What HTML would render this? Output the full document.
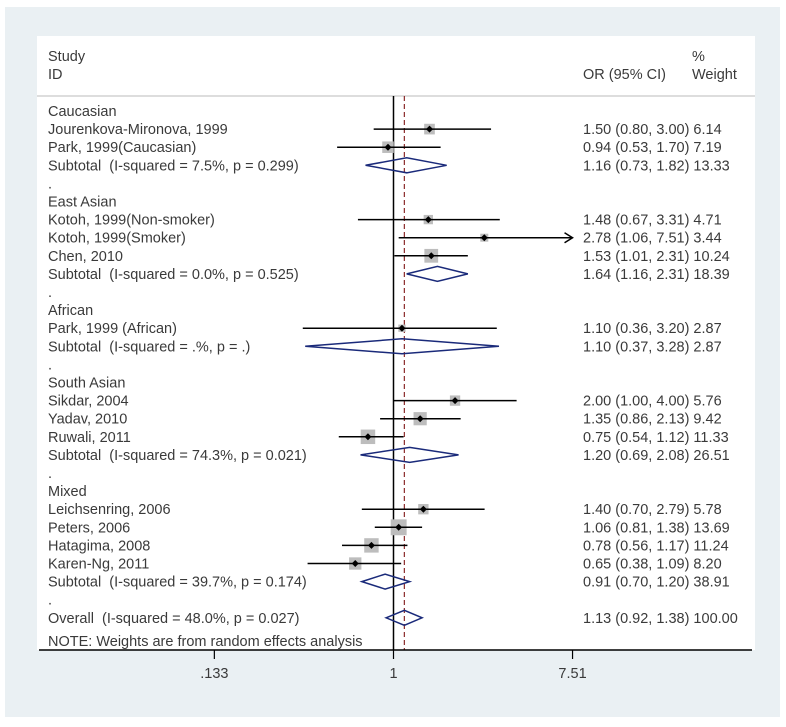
<!DOCTYPE html>
<html><head><meta charset="utf-8">
<style>
html,body{margin:0;padding:0;background:#fff;}
svg{display:block;font-family:"Liberation Sans",Arial,sans-serif;}
text{font-size:14.5px;fill:#3a3a3a;white-space:pre;}
</style></head>
<body>
<svg id="chart" width="786" height="727" viewBox="0 0 786 727">
<rect x="5" y="7" width="775" height="710" fill="#eaf0f3"/>
<rect x="37" y="36" width="718" height="614" fill="#ffffff"/>
<g id="header">
<text x="48" y="61">Study</text>
<text x="48" y="79">ID</text>
<text x="583" y="79">OR (95% CI)</text>
<text x="692" y="61">%</text>
<text x="692" y="79">Weight</text>
<line x1="37" y1="96" x2="755" y2="96" stroke="#bbb" stroke-width="1"/>
</g>
<g id="rows"></g>
<g id="marks"></g>
<g id="axis"></g>
</svg>
<script>
// Row types: h=heading, s=study, t=subtotal, b=blank, o=overall, n=note
const rowTypes = ["h","s","s","t","b","h","s","s","s","t","b","h","s","t","b","h","s","s","s","t","b","h","s","s","s","s","t","b","o","n"];
const rowLabels = ["Caucasian","Jourenkova-Mironova, 1999","Park, 1999(Caucasian)","Subtotal  (I-squared = 7.5%, p = 0.299)",".",
"East Asian","Kotoh, 1999(Non-smoker)","Kotoh, 1999(Smoker)","Chen, 2010","Subtotal  (I-squared = 0.0%, p = 0.525)",".",
"African","Park, 1999 (African)","Subtotal  (I-squared = .%, p = .)",".",
"South Asian","Sikdar, 2004","Yadav, 2010","Ruwali, 2011","Subtotal  (I-squared = 74.3%, p = 0.021)",".",
"Mixed","Leichsenring, 2006","Peters, 2006","Hatagima, 2008","Karen-Ng, 2011","Subtotal  (I-squared = 39.7%, p = 0.174)",".",
"Overall  (I-squared = 48.0%, p = 0.027)","NOTE: Weights are from random effects analysis"];
const orValues = [null,1.50,0.94,1.16,null,null,1.48,2.78,1.53,1.64,null,null,1.10,1.10,null,null,2.00,1.35,0.75,1.20,null,null,1.40,1.06,0.78,0.65,0.91,null,1.13,null];
const lowerCI = [null,0.80,0.53,0.73,null,null,0.67,1.06,1.01,1.16,null,null,0.36,0.37,null,null,1.00,0.86,0.54,0.69,null,null,0.70,0.81,0.56,0.38,0.70,null,0.92,null];
const upperCI = [null,3.00,1.70,1.82,null,null,3.31,7.51,2.31,2.31,null,null,3.20,3.28,null,null,4.00,2.13,1.12,2.08,null,null,2.79,1.38,1.17,1.09,1.20,null,1.38,null];
const weights = [null,6.14,7.19,13.33,null,null,4.71,3.44,10.24,18.39,null,null,2.87,2.87,null,null,5.76,9.42,11.33,26.51,null,null,5.78,13.69,11.24,8.20,38.91,null,100.00,null];
const tickValues = [0.133,1,7.51];
const tickLabels = [".133","1","7.51"];
const overallOR = 1.13;

const NS="http://www.w3.org/2000/svg";
const x0=393.5, pxPerLn=88.8, axisMin=0.133, axisMax=7.51;
function xScale(v){return x0+Math.log(v)*pxPerLn;}
function yRow(i){return 111+18.1*i;}
function mk(tag,attrs,parent){const e=document.createElementNS(NS,tag);for(const k in attrs)e.setAttribute(k,attrs[k]);parent.appendChild(e);return e;}
const rows=document.getElementById('rows'), marks=document.getElementById('marks'), axis=document.getElementById('axis');

let l=mk('line',{x1:x0,y1:96,x2:x0,y2:650,stroke:'#000','stroke-width':1.5},marks);


l=mk('line',{x1:xScale(overallOR),y1:96,x2:xScale(overallOR),y2:650,stroke:'#8b2a2a','stroke-width':1.2,'stroke-dasharray':'5,3'},marks);



function f2(v){return v.toFixed(2);}
rowTypes.forEach((t,i)=>{
  const y=yRow(i);
  const ty = t==='n' ? y+10 : y+5;
  const tx=mk('text',{x:48,y:ty},rows);
  tx.textContent=rowLabels[i];
  
  
  if(orValues[i]==null) return;
  const vt=mk('text',{x:583,y:y+5},rows);
  vt.textContent=f2(orValues[i])+" ("+f2(lowerCI[i])+", "+f2(upperCI[i])+") "+f2(weights[i]);
  
  
  const xc=xScale(orValues[i]), xl=xScale(Math.max(lowerCI[i],axisMin)), xu=xScale(Math.min(upperCI[i],axisMax));
  if(t==='s'){
    const s=4.3*Math.sqrt(weights[i]);
    const sq=mk('rect',{x:xc-s/2,y:y-s/2,width:s,height:s,fill:'#bdbdbd'},marks);
    
    
    const ci=mk('line',{x1:xl,y1:y,x2:xu,y2:y,stroke:'#000','stroke-width':1.5},marks);
    
    
    if(upperCI[i]>=axisMax){
      const ar=mk('path',{d:`M${xu-8},${y-5} L${xu},${y} L${xu-8},${y+5}`,fill:'none',stroke:'#000','stroke-width':1.5},marks);
      
      
    }
    const pt=mk('path',{d:`M${xc},${y-3.5} L${xc+3.5},${y} L${xc},${y+3.5} L${xc-3.5},${y} Z`,fill:'#000'},marks);
    
    
  } else {
    const dm=mk('path',{d:`M${xl},${y} L${xc},${y-7.5} L${xu},${y} L${xc},${y+7.5} Z`,fill:'none',stroke:'#1a2a7a','stroke-width':1.5},marks);
    
    
  }
});

l=mk('line',{x1:39,y1:650,x2:752,y2:650,stroke:'#000','stroke-width':1.5},axis);


tickValues.forEach((v,k)=>{
  const x=xScale(v);
  const tk=mk('line',{x1:x,y1:650,x2:x,y2:659,stroke:'#000','stroke-width':1.2},axis);
  
  
  const lb=mk('text',{x:x,y:678,'text-anchor':'middle'},axis);
  lb.textContent=tickLabels[k];
  
  
});
</script>
</body></html>
